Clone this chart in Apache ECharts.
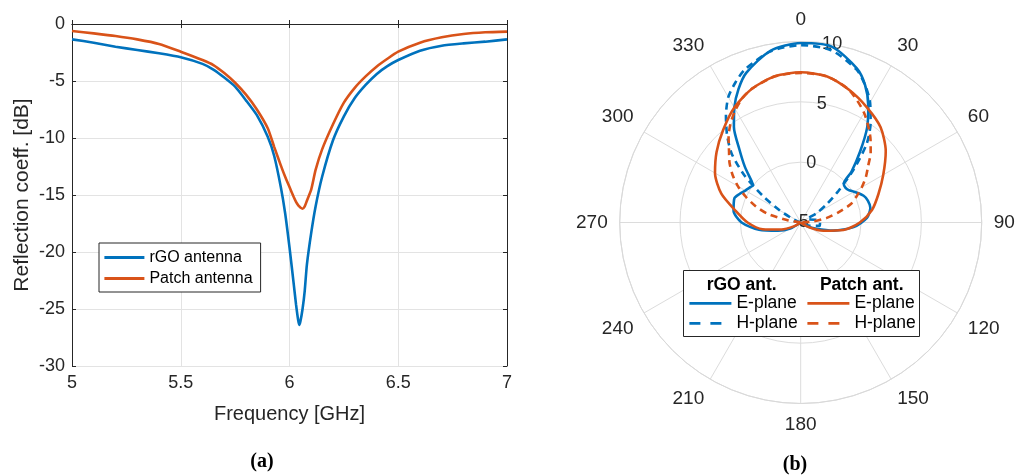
<!DOCTYPE html>
<html>
<head>
<meta charset="utf-8">
<script src="https://cdn.jsdelivr.net/npm/echarts@6/dist/echarts.min.js"></script>
<style>
  html, body { margin: 0; padding: 0; background: #ffffff; }
  #chart { width: 1024px; height: 475px; }
</style>
</head>
<body>
<div id="chart"></div>
<script>
// ---- (a) reflection coefficient vs frequency ----
const freqGHz = [5.0, 5.1, 5.2, 5.3, 5.4, 5.5, 5.6, 5.65, 5.7, 5.75, 5.8, 5.85, 5.9, 5.93, 5.96, 5.98,
  6.0, 6.02, 6.03, 6.04, 6.045, 6.05, 6.06, 6.07, 6.08, 6.1, 6.12, 6.15, 6.2, 6.25, 6.3, 6.35,
  6.4, 6.45, 6.5, 6.6, 6.7, 6.8, 6.9, 7.0];
const rgoS11 = [-1.35, -1.64, -1.99, -2.28, -2.57, -2.92, -3.5, -4.0, -4.7, -5.5, -6.7, -8.0, -9.9, -11.6, -14.3, -16.6,
  -19.6, -22.9, -24.6, -26.0, -26.4, -26.1, -25.0, -23.4, -21.1, -18.3, -16.0, -13.4, -10.2, -8.1, -6.5, -5.35,
  -4.4, -3.7, -3.16, -2.34, -1.9, -1.7, -1.55, -1.35];
const patchS11 = [-0.61, -0.82, -1.05, -1.35, -1.75, -2.43, -3.16, -3.6, -4.3, -5.15, -6.2, -7.5, -9.15, -10.8, -12.4, -13.4,
  -14.3, -15.2, -15.6, -15.9, -16.0, -16.1, -16.2, -16.0, -15.5, -14.5, -12.8, -11.0, -8.8, -6.9, -5.6, -4.6,
  -3.75, -3.05, -2.43, -1.64, -1.17, -0.88, -0.73, -0.67];
const s11Names = ['rGO antenna', 'Patch antenna'];

// ---- (b) radiation patterns, angle in degrees (negative = left of boresight), gain in dB ----
const rgoEAng = [-130, -120, -110, -100, -90, -80, -70, -65, -60, -55, -52, -50, -45, -40, -35, -30, -25, -20, -10, 0,
  10, 20, 25, 30, 35, 40, 45, 48, 52, 56, 60, 67, 72, 78, 86, 95, 104, 112, 120, 130];
const rgoEVal = [-5, -4.0, -3.0, -1.5, -0.1, 0.65, 0.85, 0.6, 0.3, 0.1, 0.0, 0.3, 1.55, 2.9, 4.65, 6.0, 7.2, 8.2, 9.45, 9.87,
  9.8, 8.6, 7.6, 6.2, 4.6, 2.65, 0.95, -0.2, -0.3, -0.2, 0.1, 0.67, 0.85, 0.9, 0.5, -0.6, -2.2, -3.6, -4.4, -5];

const rgoHAng = [-75, -70, -65, -60, -55, -50, -45, -40, -35, -30, -25, -20, -10, 0,
  10, 20, 25, 30, 35, 40, 45, 50, 55, 60, 65, 70, 80, 90, 100, 110, 120];
const rgoHVal = [-5, -4.8, -4.2, -3.0, -1.2, 1.1, 3.1, 4.5, 5.8, 7.0, 7.8, 8.5, 9.4, 9.7,
  9.5, 8.5, 7.6, 6.5, 5.1, 3.5, 1.2, -0.9, -2.4, -3.5, -4.4, -4.4, -3.7, -3.4, -3.4, -4.2, -5];

const patchEAng = [-130, -120, -110, -100, -90, -80, -70, -60, -50, -40, -30, -20, -10, 0,
  10, 20, 30, 40, 50, 60, 70, 80, 90, 100, 110, 120, 130];
const patchEVal = [-5, -4.4, -3.3, -1.8, -0.6, 0.45, 2.0, 3.2, 4.1, 5.0, 6.0, 6.8, 7.3, 7.45,
  7.3, 6.7, 6.0, 5.3, 4.2, 2.9, 1.85, 1.0, -0.1, -1.4, -3.0, -4.2, -5];

const patchHAng = [-90, -80, -75, -70, -65, -60, -55, -50, -45, -40, -35, -30, -25, -20, -10, 0,
  10, 20, 30, 40, 45, 50, 55, 60, 65, 70, 75, 80, 85, 90];
const patchHVal = [-5, -3.9, -2.1, -1.0, 0.0, 1.0, 1.9, 2.7, 3.4, 4.3, 5.1, 5.8, 6.4, 6.8, 7.3, 7.4,
  7.3, 6.7, 5.5, 4.0, 3.2, 2.3, 1.6, 0.85, 0.1, -0.6, -1.8, -2.8, -4.0, -5];

const angleTicks = [0, 30, 60, 90, 120, 150, 180, 210, 240, 270, 300, 330];
const gainTicks = [-5, 0, 5, 10];

const BLUE = '#0072BD';
const ORANGE = '#D95319';
const INK = '#262626';
const GRID = '#e3e3e3';
const FONT = 'Liberation Sans, Arial, Helvetica, sans-serif';
const DASH = [7, 5];
const KEY_DASH = [11, 10];

const polarPoints = (ang, val) => ang.map((a, i) => [val[i], a < 0 ? a + 360 : a]);

const chart = echarts.init(document.getElementById('chart'), null, { renderer: 'canvas' });

const boxAxisCommon = {
  axisLine: { show: true, lineStyle: { color: INK, width: 1 } },
  axisTick: { show: true, inside: true, length: 4, lineStyle: { color: INK } },
};

// legend keys show only the line (no marker)
const legendKey = {
  itemStyle: { opacity: 0, borderWidth: 0 },
  lineStyle: { width: 2.8 }
};

const option = {
  animation: false,
  backgroundColor: '#ffffff',
  textStyle: { fontFamily: FONT, color: INK },
  grid: { left: 72, right: 517, top: 24, bottom: 109, containLabel: false },
  xAxis: [
    Object.assign({
      type: 'value', min: 5, max: 7, interval: 0.5, position: 'bottom',
      name: 'Frequency [GHz]', nameLocation: 'middle', nameGap: 38,
      nameTextStyle: { fontSize: 20, color: INK, fontFamily: FONT },
      axisLabel: { fontSize: 18, color: INK, margin: 8, fontFamily: FONT },
      splitLine: { show: true, lineStyle: { color: GRID, width: 1 } }
    }, boxAxisCommon),
    Object.assign({
      type: 'value', min: 5, max: 7, interval: 0.5, position: 'top',
      axisLabel: { show: false }, splitLine: { show: false }
    }, boxAxisCommon)
  ],
  yAxis: [
    Object.assign({
      type: 'value', min: -30, max: 0, interval: 5, position: 'left',
      name: 'Reflection coeff. [dB]', nameLocation: 'middle', nameGap: 39, nameRotate: 90,
      nameTextStyle: { fontSize: 21, color: INK, fontFamily: FONT },
      axisLabel: { fontSize: 18, color: INK, margin: 7, fontFamily: FONT },
      splitLine: { show: true, lineStyle: { color: GRID, width: 1 } }
    }, boxAxisCommon),
    Object.assign({
      type: 'value', min: -30, max: 0, interval: 5, position: 'right',
      axisLabel: { show: false }, splitLine: { show: false }
    }, boxAxisCommon)
  ],
  polar: [
    { center: [800.7, 222.5], radius: 181 },
    { center: [800.7, 222.5], radius: 181 }
  ],
  angleAxis: [
    {
      polarIndex: 0, type: 'value', min: 0, max: 360, interval: 30,
      startAngle: 90, clockwise: true,
      axisLine: { show: true, lineStyle: { color: '#d9d9d9', width: 1 } },
      axisTick: { show: false },
      axisLabel: {
        show: true, fontSize: 19, color: INK, margin: 12, fontFamily: FONT,
        formatter: v => (angleTicks.indexOf(v) >= 0 ? String(v) : '')
      },
      splitLine: { show: true, lineStyle: { color: '#dcdcdc', width: 1 } }
    },
    {
      // carries the gain labels along the 10-degree ray
      polarIndex: 1, type: 'value', min: 0, max: 360, startAngle: 80, clockwise: true,
      show: false
    }
  ],
  radiusAxis: [
    {
      polarIndex: 0, type: 'value', min: -5, max: 10, interval: 5,
      axisLine: { show: false }, axisTick: { show: false }, axisLabel: { show: false },
      splitLine: { show: true, lineStyle: { color: '#dcdcdc', width: 1 } }
    },
    {
      polarIndex: 1, type: 'value', min: -5, max: 10, interval: 5,
      axisLine: { show: false }, axisTick: { show: false }, splitLine: { show: false },
      axisLabel: {
        show: true, fontSize: 18, color: INK, margin: 0, fontFamily: FONT,
        align: 'center', verticalAlign: 'middle',
        formatter: v => (gainTicks.indexOf(v) >= 0 ? String(v) : '')
      },
      z: 1
    }
  ],
  legend: [
    Object.assign({
      data: s11Names, orient: 'vertical', left: 99, top: 243,
      padding: [4, 8, 3, 4], itemGap: 0, itemWidth: 40, itemHeight: 14,
      backgroundColor: '#ffffff', borderColor: INK, borderWidth: 1,
      textStyle: { fontSize: 16, color: '#000000', fontFamily: FONT, lineHeight: 21 },
      selectedMode: false
    }, legendKey),
    Object.assign({
      data: ['rGO E-plane', { name: 'rGO H-plane', lineStyle: { type: KEY_DASH } }],
      orient: 'vertical', left: 688, top: 293.3,
      padding: 0, itemGap: 0, itemWidth: 42, itemHeight: 14,
      textStyle: { fontSize: 17.5, color: '#000000', fontFamily: FONT, lineHeight: 20 },
      formatter: n => n.split(' ')[1], selectedMode: false, z: 6
    }, legendKey),
    Object.assign({
      data: ['Patch E-plane', { name: 'Patch H-plane', lineStyle: { type: KEY_DASH } }],
      orient: 'vertical', left: 806, top: 293.3,
      padding: 0, itemGap: 0, itemWidth: 42, itemHeight: 14,
      textStyle: { fontSize: 17.5, color: '#000000', fontFamily: FONT, lineHeight: 20 },
      formatter: n => n.split(' ')[1], selectedMode: false, z: 6
    }, legendKey)
  ],
  graphic: [
    { type: 'rect', z: 5, shape: { x: 683.5, y: 270.5, width: 236, height: 66 },
      style: { fill: '#ffffff', stroke: INK, lineWidth: 1 } },
    { type: 'text', z: 7, x: 741.7, y: 285,
      style: { text: 'rGO ant.', fill: '#000000', font: 'bold 17.5px ' + FONT, textAlign: 'center', textVerticalAlign: 'middle' } },
    { type: 'text', z: 7, x: 861.7, y: 285,
      style: { text: 'Patch ant.', fill: '#000000', font: 'bold 17.5px ' + FONT, textAlign: 'center', textVerticalAlign: 'middle' } },
    { type: 'text', z: 7, x: 262, y: 461.5,
      style: { text: '(a)', fill: '#000000', font: 'bold 20px Liberation Serif, Times New Roman, serif', textAlign: 'center', textVerticalAlign: 'middle' } },
    { type: 'text', z: 7, x: 795, y: 465,
      style: { text: '(b)', fill: '#000000', font: 'bold 20px Liberation Serif, Times New Roman, serif', textAlign: 'center', textVerticalAlign: 'middle' } }
  ],
  series: [
    {
      name: s11Names[0], type: 'line', xAxisIndex: 0, yAxisIndex: 0, symbol: 'none', smooth: 0.2,
      lineStyle: { color: BLUE, width: 2.6 }, itemStyle: { color: BLUE },
      data: freqGHz.map((f, i) => [f, rgoS11[i]]), z: 3
    },
    {
      name: s11Names[1], type: 'line', xAxisIndex: 0, yAxisIndex: 0, symbol: 'none', smooth: 0.2,
      lineStyle: { color: ORANGE, width: 2.6 }, itemStyle: { color: ORANGE },
      data: freqGHz.map((f, i) => [f, patchS11[i]]), z: 3
    },
    {
      name: 'rGO E-plane', type: 'line', coordinateSystem: 'polar', polarIndex: 0, symbol: 'none', smooth: 0.25,
      lineStyle: { color: BLUE, width: 2.6 }, itemStyle: { color: BLUE },
      data: polarPoints(rgoEAng, rgoEVal), z: 3
    },
    {
      name: 'rGO H-plane', type: 'line', coordinateSystem: 'polar', polarIndex: 0, symbol: 'none', smooth: 0.25,
      lineStyle: { color: BLUE, width: 2.6, type: DASH }, itemStyle: { color: BLUE },
      data: polarPoints(rgoHAng, rgoHVal), z: 3
    },
    {
      name: 'Patch E-plane', type: 'line', coordinateSystem: 'polar', polarIndex: 0, symbol: 'none', smooth: 0.25,
      lineStyle: { color: ORANGE, width: 2.6 }, itemStyle: { color: ORANGE },
      data: polarPoints(patchEAng, patchEVal), z: 3
    },
    {
      name: 'Patch H-plane', type: 'line', coordinateSystem: 'polar', polarIndex: 0, symbol: 'none', smooth: 0.25,
      lineStyle: { color: ORANGE, width: 2.6, type: DASH }, itemStyle: { color: ORANGE },
      data: polarPoints(patchHAng, patchHVal), z: 3
    }
  ]
};

chart.setOption(option);
</script>
</body>
</html>
